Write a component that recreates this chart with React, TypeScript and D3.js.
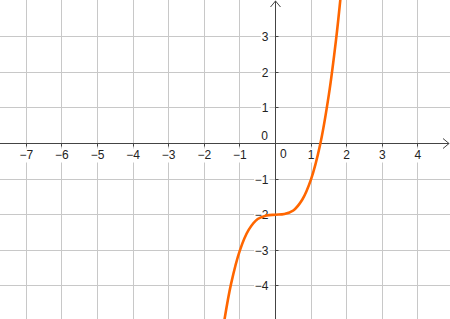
import React, { useEffect } from "react";
import * as d3 from "d3";

const W = 450;
const H = 319;

const xTicks = [-7, -6, -5, -4, -3, -2, -1, 1, 2, 3, 4];
const yTicks = [-4, -3, -2, -1, 1, 2, 3];
const xGrid = [-7, -6, -5, -4, -3, -2, -1, 0, 1, 2, 3, 4];
const yGrid = [-4, -3, -2, -1, 0, 1, 2, 3];

// points
const curveX = [-1.45, -1.25, -1.0, -0.75, -0.5, -0.25, 0, 0.25, 0.5, 0.75, 1.0, 1.25, 1.5, 1.7, 1.82];
const curveY = [-5.05, -3.95, -3.0, -2.42, -2.12, -2.02, -2.0, -1.98, -1.88, -1.58, -1.0, -0.05, 1.38, 2.91, 4.03];

const unit = 35.6;
const ox = 275.5;
const oy = 143.5;

const x = d3.scaleLinear().domain([-ox / unit, (W - ox) / unit]).range([0, W]);
const y = d3.scaleLinear().domain([(oy - H) / unit, oy / unit]).range([H, 0]);

const px = (v: number) => Math.round(x(v) - 0.5) + 0.5;
const py = (v: number) => Math.round(y(v) - 0.5) + 0.5;

const fmt = (v: number) => (v < 0 ? "\u2212" + Math.abs(v) : String(v));

const font = "Liberation Sans, Arial, sans-serif";
const axisCol = "#444444";
const gridCol = "#c8c8c8";
const textCol = "#222222";

export default function App() {
  useEffect(() => {
    document.body.style.margin = "0";
  }, []);

  const pts: [number, number][] = curveX.map((v, i) => [v, curveY[i]]);
  const line = d3
    .line<[number, number]>()
    .x((d) => x(d[0]))
    .y((d) => y(d[1]))
    .curve(d3.curveCatmullRom.alpha(0.5));

  const X0 = px(0);
  const Y0 = py(0);

  const charW = 6.7;

  return (
    <svg width={W} height={H} style={{ display: "block", background: "#fff" }}>
      <defs>
        <clipPath id="plot">
          <rect x={0} y={0} width={W} height={H} />
        </clipPath>
      </defs>
      <rect x={0} y={0} width={W} height={H} fill="#fff" />
      {xGrid.map((v) => (
        <line key={"gx" + v} x1={px(v)} x2={px(v)} y1={0} y2={H} stroke={gridCol} strokeWidth={1} />
      ))}
      {yGrid.map((v) => (
        <line key={"gy" + v} x1={0} x2={W} y1={py(v)} y2={py(v)} stroke={gridCol} strokeWidth={1} />
      ))}
      {/* axes */}
      <line x1={0} x2={W - 1} y1={Y0} y2={Y0} stroke={axisCol} strokeWidth={1} />
      <line x1={X0} x2={X0} y1={1} y2={H} stroke={axisCol} strokeWidth={1} />
      <polyline
        points={`${W - 7},${Y0 - 5} ${W - 1},${Y0} ${W - 7},${Y0 + 5}`}
        fill="none"
        stroke={axisCol}
        strokeWidth={1}
      />
      <polyline
        points={`${X0 - 5},${7} ${X0},${1} ${X0 + 5},${7}`}
        fill="none"
        stroke={axisCol}
        strokeWidth={1}
      />
      {/* ticks */}
      {xTicks.map((v) => (
        <line key={"tx" + v} x1={px(v)} x2={px(v)} y1={Y0} y2={Y0 + 3} stroke={axisCol} strokeWidth={1} />
      ))}
      {yTicks.map((v) => (
        <line key={"ty" + v} x1={X0} x2={X0 + 3} y1={py(v)} y2={py(v)} stroke={axisCol} strokeWidth={1} />
      ))}
      {/* x labels */}
      {xTicks.map((v) => {
        const t = fmt(v);
        const w = t.length * charW;
        return (
          <g key={"lx" + v}>
            <rect x={x(v) - w / 2 - 1} y={Y0 + 5} width={w + 2} height={14} fill="#fff" />
            <text x={x(v)} y={Y0 + 15} textAnchor="middle" fontFamily={font} fontSize={12} fill={textCol}>
              {t}
            </text>
          </g>
        );
      })}
      {/* y labels */}
      {yTicks.map((v) => {
        const t = fmt(v);
        const w = t.length * charW;
        return (
          <g key={"ly" + v}>
            <rect x={X0 - 7 - w - 1} y={y(v) - 7} width={w + 2} height={14} fill="#fff" />
            <text x={X0 - 7} y={y(v) + 4.5} textAnchor="end" fontFamily={font} fontSize={12} fill={textCol}>
              {t}
            </text>
          </g>
        );
      })}
      {/* zeros */}
      <text x={X0 - 7.5} y={Y0 - 3.5} textAnchor="end" fontFamily={font} fontSize={12} fill={textCol}>
        0
      </text>
      <text x={X0 + 4.5} y={Y0 + 14.5} textAnchor="start" fontFamily={font} fontSize={12} fill={textCol}>
        0
      </text>
      {/* curve */}
      <path
        d={line(pts) || ""}
        fill="none"
        stroke="#ff6600"
        strokeWidth={2.6}
        strokeLinecap="round"
        clipPath="url(#plot)"
      />
    </svg>
  );
}
